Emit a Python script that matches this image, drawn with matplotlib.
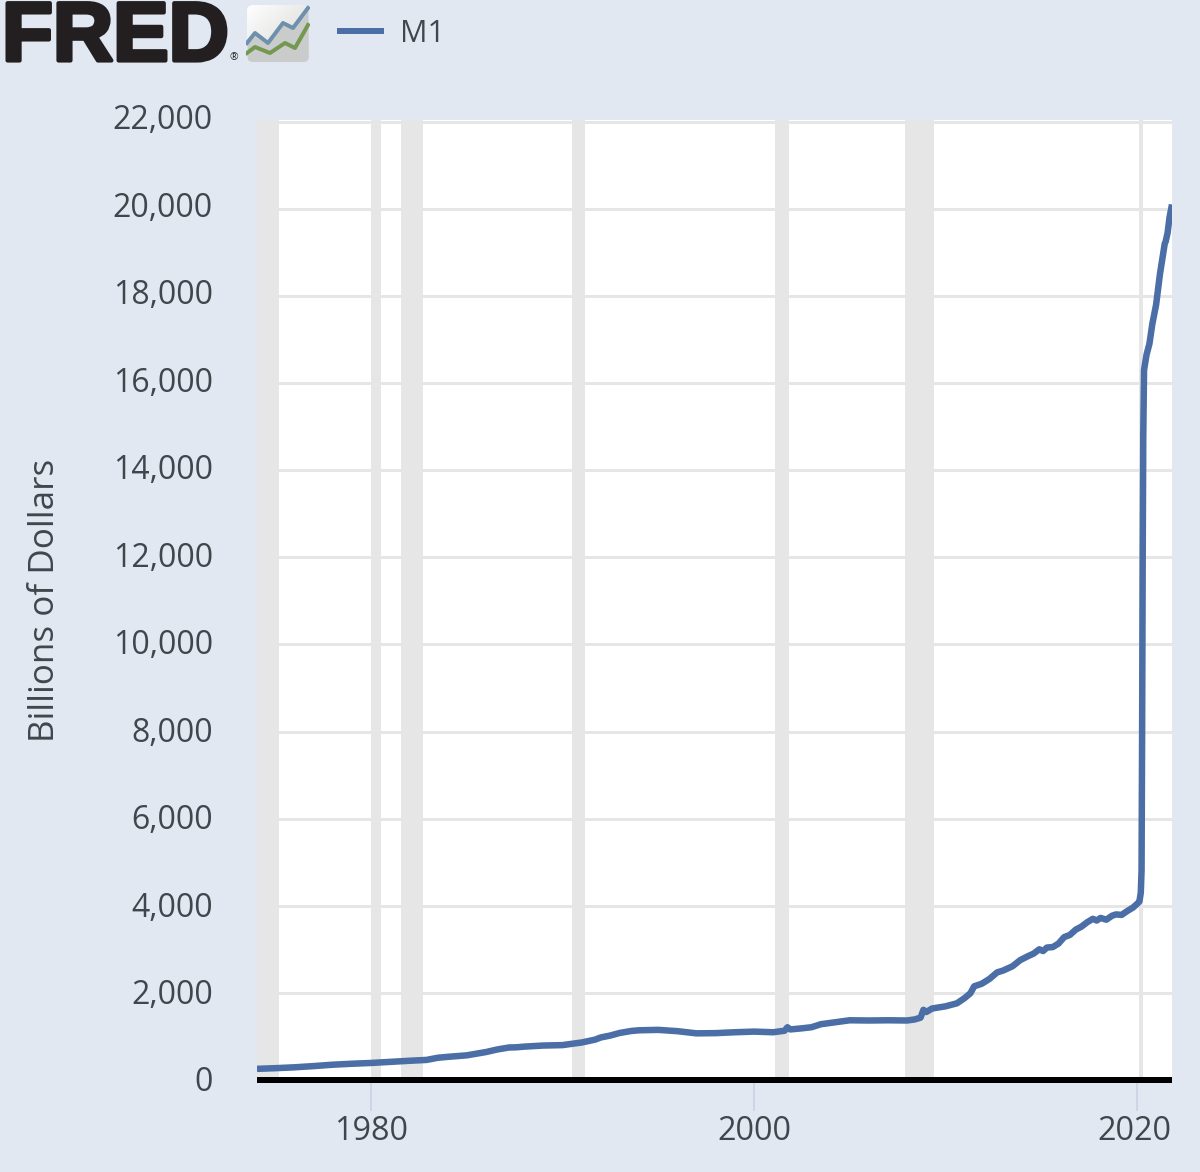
import numpy as np
import matplotlib
matplotlib.use("Agg")
import matplotlib.pyplot as plt
import matplotlib.patheffects as pe
from matplotlib.patches import FancyBboxPatch
from matplotlib.transforms import ScaledTranslation

W, H = 1200, 1172

# M1 money stock, billions of dollars
years = [1974.05, 1975, 1976, 1977, 1978, 1979, 1980, 1981, 1982, 1982.9, 1983.5, 1984, 1985,
         1986, 1986.6, 1987.2, 1987.6, 1988, 1989, 1990, 1991, 1991.7, 1992, 1992.5, 1993, 1993.6,
         1994, 1995, 1996, 1997, 1998, 1999, 2000, 2001, 2001.6, 2001.75, 2001.9, 2002.5, 2003,
         2003.5, 2004, 2005, 2006, 2007, 2008, 2008.4, 2008.7, 2008.85, 2009.0, 2009.3, 2010, 2010.6,
         2011, 2011.3, 2011.5, 2011.9, 2012.3, 2012.7, 2013, 2013.5, 2013.9, 2014.3, 2014.6, 2014.9,
         2015.1, 2015.3, 2015.6, 2015.9, 2016.2, 2016.5, 2016.8, 2017.1, 2017.4, 2017.7, 2017.9,
         2018.1, 2018.4, 2018.7, 2018.9, 2019.2, 2019.5, 2019.8, 2020.05, 2020.13, 2020.2, 2020.24,
         2020.27, 2020.3, 2020.33, 2020.37, 2020.5, 2020.65, 2020.8, 2021.0, 2021.2, 2021.45,
         2021.5, 2021.6, 2021.7, 2021.83]
m1_values = [255, 270, 290, 318, 350, 372, 390, 415, 440, 460, 510, 530, 565,
             640, 700, 745, 750, 765, 790, 800, 860, 925, 975, 1020, 1080, 1125,
             1140, 1150, 1120, 1070, 1075, 1095, 1110, 1095, 1130, 1210, 1160, 1185, 1210,
             1280, 1310, 1370, 1365, 1370, 1365, 1390, 1430, 1610, 1560, 1640, 1690, 1760,
             1880, 1990, 2150, 2210, 2320, 2470, 2510, 2610, 2750, 2840, 2900, 3000,
             2960, 3040, 3050, 3130, 3280, 3330, 3450, 3520, 3620, 3700, 3660,
             3720, 3680, 3770, 3800, 3790, 3880, 3960, 4060, 4100, 4300, 4800,
             8000, 12000, 14800, 16300, 16650, 16900, 17350, 17800, 18500, 19200,
             19250, 19450, 19800, 20100]

# NBER recession periods
recession_starts = [1973.9, 1980.0, 1981.55, 1990.5, 2001.1, 2007.9, 2020.1]
recession_ends = [1975.2, 1980.5, 1982.72, 1991.2, 2001.85, 2009.42, 2020.32]

y_ticks = list(range(0, 22001, 2000))
y_tick_labels = [f"{v:,}" for v in y_ticks]
x_ticks = [1980, 2000, 2020]
x_tick_labels = ["1980", "2000", "2020"]

# Logo glyph polylines, in pixel coordinates of the header
logo_blue_x = [247, 255, 268, 283, 293, 308]
logo_blue_y = [43, 33, 43, 23, 28, 8]
logo_green_x = [247, 255, 270, 285, 295, 308]
logo_green_y = [53, 47, 53, 43, 48, 25]

BG = "#e1e8f1"
GRID = "#e6e6e6"
LINE = "#4a6ea5"
TEXT = "#41464d"
TICK = "#ccd6e6"
px = 72 / 100  # points per pixel at dpi 100

plt.rcParams["font.family"] = ["Open Sans", "DejaVu Sans"]
fig = plt.figure(figsize=(W / 100, H / 100), dpi=100, facecolor=BG)

# Plot area
left, right, top, bottom = 257, 1172, 120, 1083
ax = fig.add_axes([left / W, 1 - bottom / H, (right - left) / W, (bottom - top) / H])
ax.set_facecolor("white")
ax.set_xlim(1974.05, 2021.83)
ax.set_ylim(-70, 22040)

for s, e in zip(recession_starts, recession_ends):
    ax.axvspan(s, e, color=GRID, lw=0, zorder=1)
for v in y_ticks[1:]:
    ax.axhline(v, color=GRID, lw=3 * px, zorder=1)
ax.plot(years, m1_values, color=LINE, lw=6.5 * px, solid_joinstyle="round",
        solid_capstyle="butt", zorder=3)
ax.axhline(0, color="black", lw=6 * px, zorder=4, solid_capstyle="butt")

for sp in ax.spines.values():
    sp.set_visible(False)
ax.set_yticks(y_ticks, y_tick_labels, fontsize=23, color=TEXT)
ax.tick_params(axis="y", length=0, pad=44 * px)
ax.set_xticks(x_ticks, x_tick_labels, fontsize=23.3, color=TEXT)
ax.tick_params(axis="x", length=28 * px, width=2 * px, color=TICK, pad=4 * px, labelcolor=TEXT)
ax.set_ylabel("Billions of Dollars", fontsize=25.2, color=TEXT)
ax.yaxis.set_label_coords((62 - left) / (right - left), 1 - (600 - top) / (bottom - top))

# Value labels sit a little above their gridlines, more so toward the top of the scale
for lab, v in zip(ax.get_yticklabels(), y_ticks):
    lift = ScaledTranslation(0, (1 + 4 * v / 22000) / 100, fig.dpi_scale_trans)
    lab.set_transform(lab.get_transform() + lift)
# Keep the last year inside the frame
nudge = ScaledTranslation(-3 / 100, 0, fig.dpi_scale_trans)
last = ax.get_xticklabels()[-1]
last.set_transform(last.get_transform() + nudge)

# Header: wordmark
fig.text(2 / W, 1 - 60.5 / H, "FRED", fontsize=60, family="Liberation Sans", weight="bold",
         color="#231f20", va="baseline", ha="left",
         path_effects=[pe.withStroke(linewidth=3, foreground="#231f20")])
fig.text(234 / W, 1 - 58 / H, "®", fontsize=7.5, color="#231f20", ha="center", va="center")

# Header: logo tile
logo = fig.add_axes([246 / W, 1 - 63 / H, 64 / W, 59 / H])
logo.axis("off")
tile = FancyBboxPatch((247, 5), 62, 57, boxstyle="round,pad=0,rounding_size=6",
                      transform=logo.transData, fc="none", ec="none")
logo.add_patch(tile)
grad = np.linspace(0, 1, 64)[None, :] * 0.5 + np.linspace(0, 1, 59)[:, None] * 0.5
tile_cmap = matplotlib.colors.LinearSegmentedColormap.from_list("tile", ["#ffffff", "#d4d4d2"])
img = logo.imshow(grad, extent=(246, 310, 63, 4), cmap=tile_cmap, aspect="auto", zorder=1)
fill = logo.fill_between(logo_blue_x, logo_blue_y, 62, color="#c9cccb", lw=0, zorder=2)
logo.set_xlim(246, 310)
logo.set_ylim(63, 4)
tile.set_transform(logo.transData)
img.set_clip_path(tile)
fill.set_clip_path(tile)
logo.plot(logo_blue_x, logo_blue_y, color="#6f90ad", lw=4 * px, zorder=3)
logo.plot(logo_green_x, logo_green_y, color="#74984f", lw=4 * px, zorder=3)
logo.set_xlim(246, 310)
logo.set_ylim(63, 4)

# Header: legend
key = fig.add_axes([0, 0, 1, 1], facecolor="none")
key.set_xlim(0, W)
key.set_ylim(H, 0)
key.axis("off")
key.plot([337, 384], [31, 31], color=LINE, lw=6 * px, solid_capstyle="butt")
key.text(400, 33.5, "M1", fontsize=22, color=TEXT, va="center", ha="left")

fig.savefig("out.png", dpi=100, facecolor=BG)
